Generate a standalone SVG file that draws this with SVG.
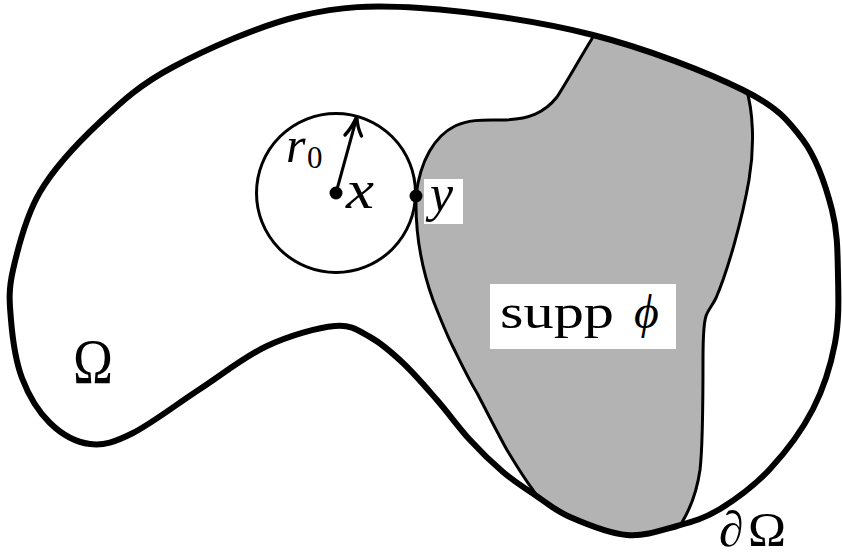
<svg xmlns="http://www.w3.org/2000/svg" width="842" height="556" viewBox="0 0 842 556">
<style>
.outer{fill:none;stroke:#000;stroke-width:6;stroke-linejoin:round}
.thin{fill:none;stroke:#000;stroke-width:3}
.supp{fill:#b3b3b3;stroke:#000;stroke-width:3}
.it{font-family:"Liberation Serif","DejaVu Serif",serif;font-style:italic;fill:#000}
.rm{font-family:"Liberation Serif","DejaVu Serif",serif;fill:#000}
.box{fill:#fff}
</style>
<defs>
<path id="outerPath" d="M420,8 C371.2,4.8 341.2,6.2 300,16 C258.8,25.8 206.3,49.3 173,67 C139.7,84.7 122.2,101.2 100,122 C77.8,142.8 54.5,167.3 40,192 C25.5,216.7 17.8,248.7 13,270 C8.2,291.3 9.5,302 11,320 C12.5,338 15.5,360.8 22,378 C28.5,395.2 38.7,412 50,423 C61.3,434 76.2,442.3 90,444 C103.8,445.7 114.7,442.2 133,433 C151.3,423.8 177.7,403.5 200,389 C222.3,374.5 244.5,356.5 267,346 C289.5,335.5 317.8,327.5 335,326 C352.2,324.5 358.7,330.8 370,337 C381.3,343.2 391.8,352.5 403,363 C414.2,373.5 425.8,387.2 437,400 C448.2,412.8 459,428 470,440 C481,452 492.2,462.8 503,472 C513.8,481.2 523.8,487.5 535,495 C546.2,502.5 554.7,510.3 570,517 C585.3,523.7 609.2,533.5 627,535 C644.8,536.5 661.5,530.3 677,526 C692.5,521.7 704.5,518.5 720,509 C735.5,499.5 754.5,485.7 770,469 C785.5,452.3 802.2,430 813,409 C823.8,388 830.8,365.2 835,343 C839.2,320.8 838.5,298.2 838,276 C837.5,253.8 837.8,232.7 832,210 C826.2,187.3 817.8,160 803,140 C787.8,120 778,107.5 743,90 C708,72.5 646.8,48.7 593,35 C539.2,21.3 468.8,11.2 420,8 Z"/>
<clipPath id="inside"><use href="#outerPath"/></clipPath>
</defs>

<g id="support" clip-path="url(#inside)">
<path class="supp" d="M598,28 L593,37 C580,58 568,80 557,97 C545,112 530,120 500,120 C485,120 470,119 455,126 C435,136 420,160 416,196 C415,240 424,275 433,300 C440,318 446,333 453,347 C461,363 468,378 477,393 C487,412 497,432 507,450 C516,465 524,478 533,490 C545,507 560,525 575,548 L662,548 C680,530 695,505 700,470 C703,445 703,400 703,360 C703,340 704,322 706,316 C708,310 712,306 716,298 C728,270 742,220 749,180 C755,145 753,110 746,88 L752,60 L600,12 Z"/>
</g>

<g id="domain">
<use href="#outerPath" class="outer"/>
</g>

<g id="ball">
<circle class="thin" cx="336" cy="193" r="79.5"/>
<circle cx="336" cy="193" r="6.5" fill="#000"/>
</g>

<g id="connectors">
<line x1="336" y1="193" x2="355.5" y2="122" stroke="#000" stroke-width="3"/>
<path d="M345,135 Q352,127.5 356.8,116.5 Q357.3,127.5 361.5,136" fill="none" stroke="#000" stroke-width="3.4" stroke-linejoin="miter" stroke-linecap="round"/>
</g>

<g id="point-y">
<rect class="box" x="424" y="179" width="39" height="45"/>
<circle cx="416" cy="196" r="6.5" fill="#000"/>
<text class="it" x="430" y="211" font-size="52">y</text>
</g>

<g id="labels">
<text class="it" x="286" y="162" font-size="50">r</text>
<text class="rm" x="307" y="168" font-size="31">0</text>
<text class="it" x="346" y="208" font-size="54" textLength="28" lengthAdjust="spacingAndGlyphs">x</text>
<text class="rm" x="73" y="383" font-size="64" textLength="40" lengthAdjust="spacingAndGlyphs">Ω</text>
<text class="it" x="719" y="546" font-size="50">∂</text>
<text class="rm" x="748" y="546" font-size="48" textLength="38" lengthAdjust="spacingAndGlyphs">Ω</text>
</g>

<g id="supp-label">
<rect class="box" x="490" y="284" width="186" height="65"/>
<text class="rm" x="500" y="328" font-size="48" textLength="114" lengthAdjust="spacingAndGlyphs">supp</text>
<text class="it" x="634" y="328" font-size="48">ϕ</text>
</g>
</svg>
